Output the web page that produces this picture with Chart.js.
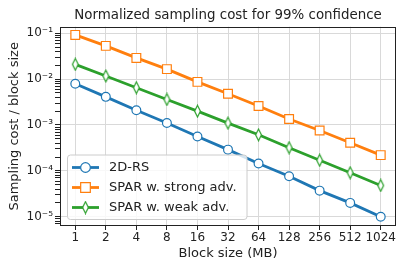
<!DOCTYPE html>
<html>
<head>
<meta charset="utf-8">
<script src="https://cdn.jsdelivr.net/npm/chart.js@4/dist/chart.umd.min.js"></script>
<style>
  html, body { margin: 0; padding: 0; background: #fff; }
  #wrap { width: 407px; height: 271px; }
</style>
</head>
<body>
<div id="wrap"><canvas id="myChart" width="407" height="271"></canvas></div>
<script>
const blockSizes = ["1", "2", "4", "8", "16", "32", "64", "128", "256", "512", "1024"];
const rsCost = [7.9e-3, 4.1e-3, 2.1e-3, 1.1e-3, 5.6e-4, 2.9e-4, 1.45e-4, 7.6e-5, 3.7e-5, 2.0e-5, 1.0e-5];
const strongCost = [9.2e-2, 5.3e-2, 2.9e-2, 1.65e-2, 8.7e-3, 4.8e-3, 2.6e-3, 1.35e-3, 7.6e-4, 4.1e-4, 2.2e-4];
const weakCost = [2.1e-2, 1.17e-2, 6.5e-3, 3.6e-3, 2.0e-3, 1.1e-3, 6.1e-4, 3.2e-4, 1.7e-4, 9.1e-5, 4.8e-5];
const seriesNames = ["2D-RS", "SPAR w. strong adv.", "SPAR w. weak adv."];

const BLUE = "#1f77b4", ORANGE = "#ff7f0e", GREEN = "#2ca02c";
const FONT = "'DejaVu Sans', sans-serif";
const SUP = {"-": "\u207b", "0": "\u2070", "1": "\u00b9", "2": "\u00b2", "3": "\u00b3",
  "4": "\u2074", "5": "\u2075", "6": "\u2076", "7": "\u2077", "8": "\u2078", "9": "\u2079"};

function isDecade(v) {
  const l = Math.log10(v);
  return Math.abs(l - Math.round(l)) < 1e-9;
}

// thin diamond marker (matplotlib "d")
function thinDiamond(color) {
  const c = document.createElement("canvas");
  c.width = 9; c.height = 14;
  const g = c.getContext("2d");
  g.beginPath();
  g.moveTo(4.5, 1.2); g.lineTo(7.4, 7); g.lineTo(4.5, 12.8); g.lineTo(1.6, 7);
  g.closePath();
  g.fillStyle = "#fff"; g.fill();
  g.lineWidth = 1.2; g.strokeStyle = color; g.stroke();
  return c;
}
const diamond = thinDiamond(GREEN);

const markers = [
  {pointStyle: "circle", radius: 4.4},
  {pointStyle: "rect", radius: 6.2},
  {pointStyle: diamond, radius: 5}
];
const colors = [BLUE, ORANGE, GREEN];

const frame = {
  id: "frame",
  afterDatasetsDraw(chart) {
    const {ctx, chartArea: a} = chart;
    ctx.save();
    ctx.strokeStyle = "#222";
    ctx.lineWidth = 1;
    ctx.strokeRect(Math.round(a.left) + 0.5, Math.round(a.top) + 0.5,
      Math.round(a.right - a.left) - 1, Math.round(a.bottom - a.top) - 1);
    ctx.restore();
  }
};

const boxLegend = {
  id: "boxLegend",
  afterDatasetsDraw(chart) {
    const {ctx, chartArea: a} = chart;
    const x0 = a.left + 7.5, y0 = a.bottom - 71, w = 179.5, h = 64.5;
    ctx.save();
    ctx.beginPath();
    ctx.roundRect(x0, y0, w, h, 3);
    ctx.fillStyle = "rgba(255,255,255,0.8)";
    ctx.fill();
    ctx.strokeStyle = "#cccccc";
    ctx.lineWidth = 1;
    ctx.stroke();
    ctx.font = "13px " + FONT;
    ctx.textBaseline = "middle";
    seriesNames.forEach((name, i) => {
      const y = y0 + 12.5 + i * 20;
      ctx.beginPath();
      ctx.moveTo(x0 + 4.5, y); ctx.lineTo(x0 + 31.5, y);
      ctx.strokeStyle = colors[i]; ctx.lineWidth = 2.8;
      ctx.stroke();
      ctx.fillStyle = "#fff"; ctx.strokeStyle = colors[i]; ctx.lineWidth = 1.2;
      Chart.helpers.drawPoint(ctx, {
        pointStyle: markers[i].pointStyle, radius: markers[i].radius * 1.1,
        borderWidth: 1.2, rotation: 0
      }, x0 + 18, y);
      ctx.fillStyle = "#222";
      ctx.fillText(name, x0 + 41.5, y + 0.5);
    });
    ctx.restore();
  }
};

const datasets = [rsCost, strongCost, weakCost].map((data, i) => ({
  label: seriesNames[i],
  data,
  borderColor: colors[i],
  backgroundColor: "#fff",
  borderWidth: 2.8,
  pointStyle: markers[i].pointStyle,
  pointRadius: markers[i].radius,
  pointBorderWidth: 1.2,
  pointBackgroundColor: "#fff",
  pointBorderColor: colors[i],
  tension: 0
}));

new Chart(document.getElementById("myChart"), {
  type: "line",
  data: {labels: blockSizes, datasets},
  options: {
    responsive: false,
    animation: false,
    events: [],
    layout: {padding: {left: 0, right: 11, top: 0, bottom: 0}},
    plugins: {
      legend: {display: false},
      tooltip: {enabled: false},
      title: {
        display: true,
        text: "Normalized sampling cost for 99% confidence",
        fullSize: false,
        color: "#222",
        font: {family: FONT, size: 13.4, weight: "normal"},
        padding: {top: 7.3, bottom: 3.3}
      }
    },
    scales: {
      x: {
        type: "category",
        offset: true,
        grid: {color: "#d9d9d9", tickColor: "#222", tickLength: 4},
        border: {display: false},
        ticks: {color: "#222", font: {family: FONT, size: 12}, padding: 1, maxRotation: 0, autoSkip: false},
        title: {display: true, text: "Block size (MB)", color: "#222",
          font: {family: FONT, size: 13}, padding: {top: 0, bottom: 9.5}},
        afterFit(s) { s.height = 45; }
      },
      y: {
        type: "logarithmic",
        min: 6.27e-6,
        max: 0.139,
        grid: {
          color: c => isDecade(c.tick.value) ? "#d9d9d9" : "rgba(0,0,0,0)",
          tickColor: "#222",
          tickLength: 5
        },
        border: {display: false},
        ticks: {
          color: "#222",
          font: {family: FONT, size: 12},
          padding: 2,
          autoSkip: false,
          callback: v => isDecade(v)
            ? "10" + String(Math.round(Math.log10(v))).split("").map(ch => SUP[ch]).join("")
            : ""
        },
        afterBuildTicks(s) {
          const t = [];
          for (let e = -6; e <= 0; e++) {
            for (let m = 1; m <= 9; m++) {
              const v = m * Math.pow(10, e);
              if (v >= s.min && v <= s.max) t.push({value: v});
            }
          }
          s.ticks = t;
        },
        title: {display: true, text: "Sampling cost / block size", color: "#222",
          font: {family: FONT, size: 13}, padding: {top: 7.2, bottom: 0}},
        afterFit(s) { s.width = 60; }
      }
    }
  },
  plugins: [frame, boxLegend]
});
</script>
</body>
</html>
